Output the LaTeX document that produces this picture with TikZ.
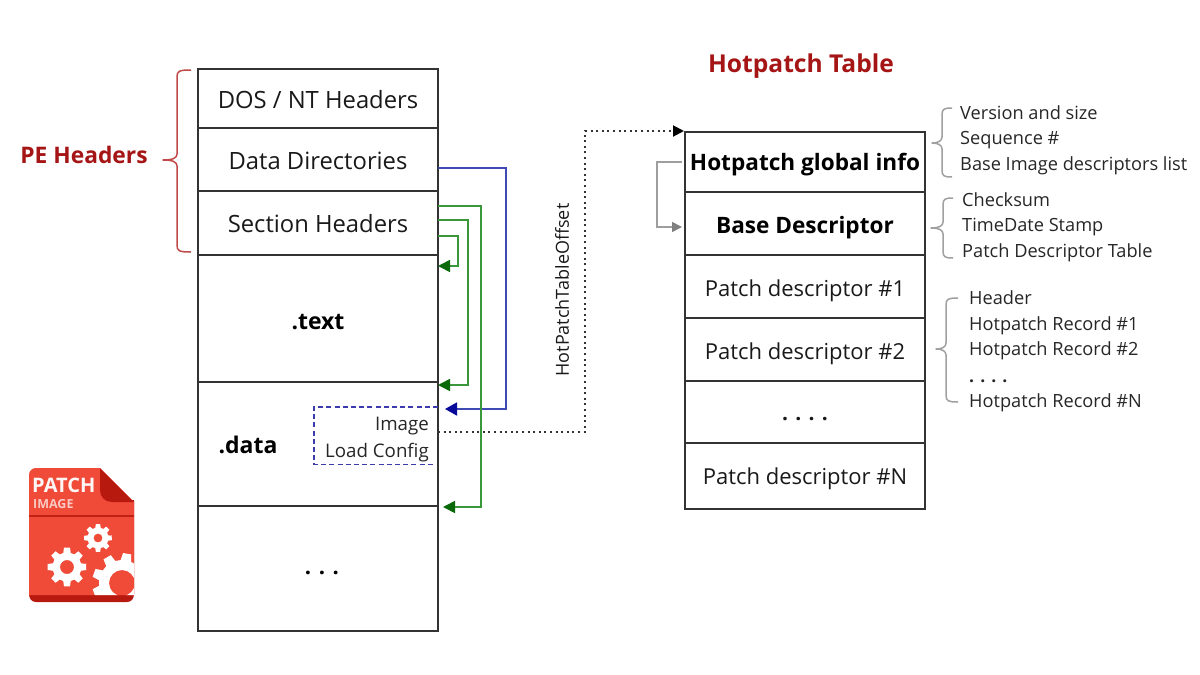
\documentclass[tikz,border=0pt]{standalone}
\usepackage{fontspec}
\setmainfont{Open Sans}
\usetikzlibrary{arrows.meta}
\definecolor{cellline}{HTML}{333333}
\definecolor{titlered}{HTML}{A51515}
\definecolor{bracered}{HTML}{C04A4A}
\definecolor{bracegray}{HTML}{A0A0A0}
\definecolor{linkblue}{HTML}{3F4AB5}
\definecolor{tipblue}{HTML}{0A0A9A}
\definecolor{linkgreen}{HTML}{3A983A}
\definecolor{tipgreen}{HTML}{0A6A0A}
\definecolor{iconred}{HTML}{F04A38}
\definecolor{icondark}{HTML}{B8190F}
\tikzset{
  x=1pt,y=-1pt,
  cell/.style={draw=cellline,line width=1.8pt,outer sep=0pt,minimum width=240pt,inner sep=0pt,anchor=north west,
    text height=22pt,text depth=2pt,font=\fontsize{23.8}{27}\selectfont,text=black!90},
  patchcell/.style={cell,text height=21pt,font=\fontsize{22}{27}\selectfont},
  cellb/.style={cell,font=\fontsize{22.6}{27}\selectfont\bfseries,text=black},
  note/.style={anchor=west,inner sep=0pt,text height=15pt,text depth=2pt,font=\fontsize{18.2}{20}\selectfont,text=black!85},
  title/.style={inner sep=0pt,text=titlered,font=\fontsize{24.6}{28}\selectfont\bfseries},
  bluelink/.style={draw=linkblue,line width=1.8pt,-{Triangle[length=12pt,width=13pt,color=tipblue]}},
  greenlink/.style={draw=linkgreen,line width=1.7pt,-{Triangle[length=12pt,width=12pt,color=tipgreen]}},
  dotlink/.style={draw=black!80,line width=2pt,dash pattern=on 2pt off 3.6pt,-{Triangle[length=11pt,width=11pt,color=black]}},
  graylink/.style={draw=black!38,line width=1.6pt,-{Triangle[length=10pt,width=10pt,color=black!50]}},
  redbrace/.style={draw=bracered,line width=1.5pt},
  graybrace/.style={draw=bracegray,line width=1.5pt},
}
% curly brace opening to the right: end x, spine x, tip x, top y, middle y, bottom y
\newcommand{\curly}[7]{%
  \draw[#1,line join=round] (#2,#5) .. controls (#3+2,#5) and (#3,#5+1) .. (#3,#5+7)
    -- (#3,#6-6) .. controls (#3,#6-2) and (#3-4,#6) .. (#4,#6)
    .. controls (#3-4,#6) and (#3,#6+2) .. (#3,#6+6)
    -- (#3,#7-7) .. controls (#3,#7-1) and (#3+2,#7) .. (#2,#7);}
% cog wheel: centre x, y, outer radius, root radius, tooth count, hole radius
\newcommand{\cogwheel}[6]{%
  \pgfmathsetmacro{\cogstep}{360/#5}
  \fill[white,even odd rule]
    (#1,#2) +(-\cogstep*0.27:#3)
    \foreach \t in {1,...,#5}{
      -- +(\t*\cogstep-\cogstep+\cogstep*0.2:#3)
      -- +(\t*\cogstep-\cogstep+\cogstep*0.33:#4)
      -- +(\t*\cogstep-\cogstep+\cogstep*0.67:#4)
      -- +(\t*\cogstep-\cogstep+\cogstep*0.8:#3)
    } -- cycle
    (#1,#2) circle[radius=#6];}
\begin{document}
\begin{tikzpicture}
\useasboundingbox (0,0) rectangle (1200,675);

% section stack of the image file
\node[cell,minimum height=59pt] (dos) at (198,69) {DOS / NT Headers};
\node[cell,minimum height=63pt] (dirs) at (198,128) {Data Directories};
\node[cell,minimum height=64pt,text height=21pt] (sects) at (198,191) {Section Headers};
\node[cell,minimum height=127pt] (text) at (198,255) {};
\node[cell,minimum height=124pt] (data) at (198,382) {};
\node[cell,minimum height=125pt] (rest) at (198,506) {};
\node[font=\fontsize{23}{27}\selectfont\bfseries,inner sep=0pt] (textlbl) at (318,322) {.text};
\node[font=\fontsize{23}{27}\selectfont\bfseries,inner sep=0pt] (datalbl) at (248,445) {.data};
\node[font=\fontsize{22}{27}\selectfont\bfseries,inner sep=0pt] (restlbl) at (322,573) {. . .};

% load config directory inside .data
\draw[draw=tipblue!80,line width=1.9pt,dash pattern=on 5pt off 3.2pt] (438,407) -- (314,407) -- (314,464.5) -- (433,464.5);
\node[anchor=east,inner sep=0pt,font=\fontsize{18.7}{20}\selectfont,text=black!85] (imglbl) at (429,426) {Image};
\node[anchor=east,inner sep=0pt,font=\fontsize{18.7}{20}\selectfont,text=black!85] (cfglbl) at (429,453) {Load Config};

% hotpatch table
\node[cellb,minimum height=60pt,text height=18pt] (global) at (685,132) {Hotpatch global info};
\node[cellb,minimum height=63pt] (base) at (685,192) {Base Descriptor};
\node[patchcell,minimum height=63pt] (p1) at (685,255) {Patch descriptor \#1};
\node[patchcell,minimum height=63pt] (p2) at (685,318) {Patch descriptor \#2};
\node[patchcell,minimum height=62pt,text height=19pt,text depth=3pt,font=\fontsize{21}{27}\selectfont\bfseries] (pdots) at (685,381) {. . . .};
\node[patchcell,minimum height=66pt,text height=18pt] (pn) at (685,443) {Patch descriptor \#N};

% headings
\node[title] (tbltitle) at (801,66) {Hotpatch Table};
\node[title,font=\fontsize{22.8}{26}\selectfont\bfseries] (pelbl) at (84,155) {PE Headers};
\node[rotate=90,inner sep=0pt,font=\fontsize{18}{20}\selectfont,text=black!90] (offlbl) at (562,290) {HotPatchTableOffset};

% links between the headers and their targets
\coordinate (bluea) at (dirs.east |- 0,168);
\coordinate (blueb) at (445,409);
\draw[bluelink] (bluea) -- (506,168) -- (506,409) -- (blueb);
\coordinate (g1a) at (sects.east |- 0,206);
\coordinate (g1b) at (443,507);
\draw[greenlink] (g1a) -- (481,206) -- (481,507) -- (g1b);
\coordinate (g2a) at (sects.east |- 0,220);
\coordinate (g2b) at (data.east |- 0,385);
\draw[greenlink] (g2a) -- (468,220) -- (468,385) -- (g2b);
\coordinate (g3a) at (sects.east |- 0,236);
\coordinate (g3b) at (text.east |- 0,266);
\draw[greenlink] (g3a) -- (458,236) -- (458,266) -- (g3b);
\coordinate (cfgout) at (438,432);
\coordinate (tblin) at (684,131);
\draw[dotlink] (cfgout) -- (585,432) -- (585,131) -- (tblin);
\coordinate (basein) at ([xshift=-3pt]base.west |- 0,227);
\coordinate (globout) at ([xshift=-3pt]global.west |- 0,162);
\draw[graylink] (globout) -- (657,162) -- (657,227) -- (basein);

% braces
\curly{redbrace}{191}{177}{163}{70}{160}{252}
\curly{graybrace}{952}{942}{932}{108}{143}{177}
\curly{graybrace}{953}{943}{931}{198}{228}{258}
\curly{graybrace}{958}{946}{936}{298}{349}{402}

% field lists
\node[note] (n1) at (960,113) {Version and size};
\node[note] (n2) at (960,138) {Sequence \#};
\node[note] (n3) at (960,164) {Base Image descriptors list};
\node[note] (n4) at (962,200) {Checksum};
\node[note] (n5) at (962,225) {TimeDate Stamp};
\node[note] (n6) at (962,251) {Patch Descriptor Table};
\node[note] (n7) at (969,298) {Header};
\node[note] (n8) at (969,324) {Hotpatch Record \#1};
\node[note] (n9) at (969,349) {Hotpatch Record \#2};
\node[note,font=\fontsize{17.5}{20}\selectfont\bfseries] (n10) at (969,376) {. . . .};
\node[note] (n11) at (969,401) {Hotpatch Record \#N};

% file icon
\fill[icondark] (36,500) -- (134,500) -- (134,594) .. controls (134,599) and (131,602) .. (127,602)
  -- (36,602) .. controls (32,602) and (29,599) .. (29,594) -- (29,500) -- cycle;
\begin{scope}
  \clip (36,468) -- (100,468) -- (134,502) -- (134,595) -- (29,595) -- (29,475)
    .. controls (29,471) and (32,468) .. (36,468) -- cycle;
  \fill[iconred] (0,440) rectangle (160,620);
  \fill[icondark!85!iconred] (29,514.5) rectangle (134,517);
  \cogwheel{122}{583}{30}{23}{9}{13}
\end{scope}
\fill[icondark] (100,468) -- (134,502) -- (112,502) .. controls (105,502) and (100,497) .. (100,490) -- cycle;
\cogwheel{98}{538}{14}{10.5}{8}{4.5}
\cogwheel{67}{567}{19.5}{14.5}{8}{7}
\node[anchor=west,inner sep=0pt,text=white!95!iconred,font=\fontsize{20}{22}\selectfont\bfseries] (iconhead) at (32,485) {PATCH};
\node[anchor=west,inner sep=0pt,text=white!70!iconred,font=\fontsize{12.5}{14}\selectfont\bfseries] (iconsub) at (33,504) {IMAGE};
\end{tikzpicture}
\end{document}
